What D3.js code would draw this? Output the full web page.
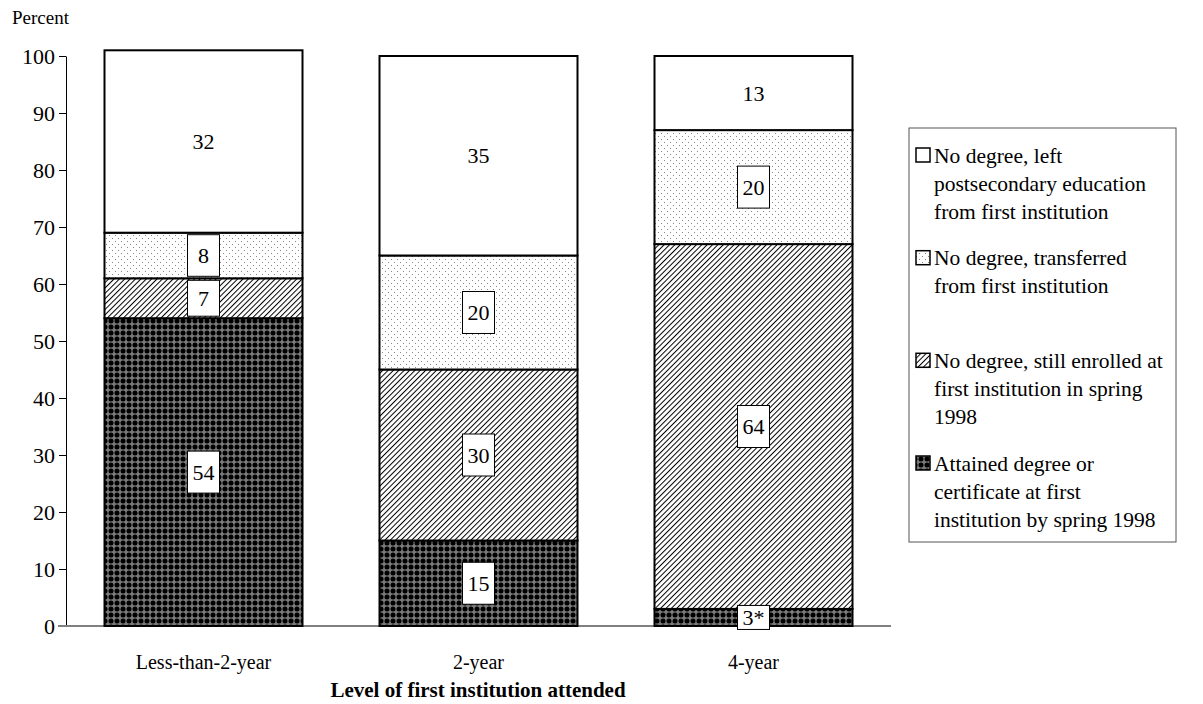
<!DOCTYPE html>
<html><head><meta charset="utf-8">
<script src="https://cdn.jsdelivr.net/npm/d3@7"></script>
<style>body{margin:0;background:#fff}svg{display:block}text{font-family:"Liberation Serif","Times New Roman",serif;fill:#000}</style>
</head><body><svg id="c" width="1203" height="704"></svg>
<script>
const categories = ["Less-than-2-year", "2-year", "4-year"];
const attained = [54, 15, 3];
const attainedLabels = ["54", "15", "3*"];
const stillEnrolled = [7, 30, 64];
const transferred = [8, 20, 20];
const leftNoDegree = [32, 35, 13];
const yTicks = [0, 10, 20, 30, 40, 50, 60, 70, 80, 90, 100];
const seriesNames = [
  ["No degree, left", "postsecondary education", "from first institution"],
  ["No degree, transferred", "from first institution"],
  ["No degree, still enrolled at", "first institution in spring", "1998"],
  ["Attained degree or", "certificate at first", "institution by spring 1998"]
];

const svg = d3.select("#c");
const defs = svg.append("defs");
const pDark = defs.append("pattern").attr("id","pDark").attr("patternUnits","userSpaceOnUse").attr("width",6).attr("height",6);
pDark.append("rect").attr("width",6).attr("height",6).attr("fill","#7a7a7a");
pDark.append("circle").attr("cx",3).attr("cy",3).attr("r",2.5).attr("fill","#000");
const pHatch = defs.append("pattern").attr("id","pHatch").attr("patternUnits","userSpaceOnUse").attr("width",3.8).attr("height",3.8).attr("patternTransform","rotate(45)");
pHatch.append("rect").attr("width",3.8).attr("height",3.8).attr("fill","#fff");
pHatch.append("line").attr("x1",0).attr("y1",0).attr("x2",0).attr("y2",3.8).attr("stroke","#000").attr("stroke-width",2);
const pDot = defs.append("pattern").attr("id","pDot").attr("patternUnits","userSpaceOnUse").attr("width",6).attr("height",6);
pDot.append("rect").attr("width",6).attr("height",6).attr("fill","#fff");
pDot.append("rect").attr("x",1).attr("y",1).attr("width",1).attr("height",1).attr("fill","#888");
pDot.append("rect").attr("x",4).attr("y",4).attr("width",1).attr("height",1).attr("fill","#888");

const fills = ["#fff", "url(#pDot)", "url(#pHatch)", "url(#pDark)"];
const x = d3.scaleBand().domain(categories).range([66, 891]).paddingInner(0.28).paddingOuter(0.14);
const y = d3.scaleLinear().domain([0, 100]).range([626, 56]);

const stackSeries = [
  {vals: attained, fill: "url(#pDark)", labels: attainedLabels, box: true},
  {vals: stillEnrolled, fill: "url(#pHatch)", labels: stillEnrolled.map(String), box: true},
  {vals: transferred, fill: "url(#pDot)", labels: transferred.map(String), box: true},
  {vals: leftNoDegree, fill: "#fff", labels: leftNoDegree.map(String), box: false}
];

const yAxis = svg.append("g").attr("transform","translate(66,0)")
  .call(d3.axisLeft(y).tickValues(yTicks).tickSize(7).tickPadding(4).tickSizeOuter(0));
yAxis.select(".domain").attr("stroke","#000").attr("stroke-width",1);
yAxis.selectAll(".tick line").attr("stroke","#000");
yAxis.selectAll("text").attr("font-size",22).attr("font-family",'"Liberation Serif",serif');

svg.append("line").attr("x1",58).attr("x2",891).attr("y1",y(0)).attr("y2",y(0)).attr("stroke","#808080").attr("stroke-width",2);

categories.forEach((c, i) => {
  let cum = 0;
  stackSeries.forEach(s => {
    const v = s.vals[i];
    const y0 = y(cum), y1 = y(cum + v);
    svg.append("rect").attr("x", x(c)).attr("width", x.bandwidth())
      .attr("y", y1).attr("height", y0 - y1)
      .attr("fill", s.fill).attr("stroke", "#000").attr("stroke-width", 2);
    cum += v;
  });
});
categories.forEach((c, i) => {
  let cum = 0;
  stackSeries.forEach(s => {
    const v = s.vals[i];
    const cy = y(cum + v / 2);
    const cx = x(c) + x.bandwidth() / 2;
    const segH = y(cum) - y(cum + v);
    if (s.box) {
      const h = Math.max(24, Math.min(42, segH - 4));
      const w = s.labels[i].length > 2 ? 34 : 32;
      svg.append("rect").attr("x", cx - w / 2).attr("y", cy - h / 2).attr("width", w).attr("height", h)
        .attr("fill", "#fff").attr("stroke", "#000").attr("stroke-width", 1);
    }
    svg.append("text").attr("x", cx).attr("y", cy).attr("dy", "0.35em").attr("text-anchor", "middle")
      .attr("font-size", 22).text(s.labels[i]);
    cum += v;
  });
});

svg.append("g").selectAll("text").data(categories).join("text")
  .attr("x", d => x(d) + x.bandwidth() / 2).attr("y", 669).attr("text-anchor", "middle")
  .attr("font-size", 20).text(d => d);
svg.append("text").attr("x", 478).attr("y", 697).attr("text-anchor", "middle")
  .attr("font-size", 21).attr("font-weight", "bold").text("Level of first institution attended");
svg.append("text").attr("x", 12).attr("y", 24).attr("font-size", 19).text("Percent");

const lg = svg.append("g");
lg.append("rect").attr("x", 909).attr("y", 128).attr("width", 267).attr("height", 414)
  .attr("fill", "#fff").attr("stroke", "#555").attr("stroke-width", 1);
const firstLine = [155, 257.7, 360.3, 463];
seriesNames.forEach((lines, k) => {
  const cy = firstLine[k];
  lg.append("rect").attr("x", 916).attr("y", cy - 7).attr("width", 14).attr("height", 14)
    .attr("fill", fills[k]).attr("stroke", "#000").attr("stroke-width", 1.5);
  lines.forEach((t, j) => {
    lg.append("text").attr("x", 934).attr("y", cy + j * 28).attr("dy", "0.35em")
      .attr("font-size", 21.5).text(t);
  });
});
</script></body></html>
